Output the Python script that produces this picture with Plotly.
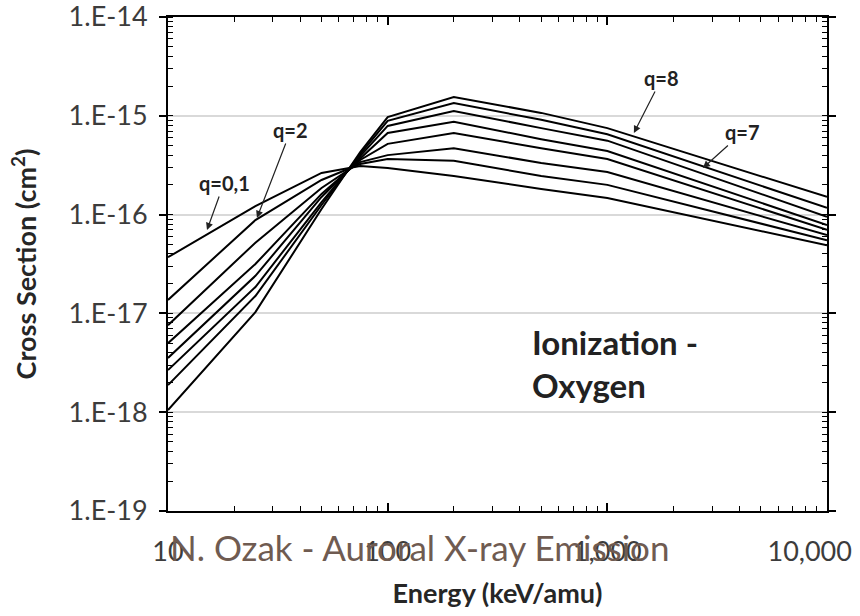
import math
import plotly.graph_objects as go

# Projectile energy grid (keV/amu)
energy = [10, 25, 50, 75, 100, 200, 500, 1000, 10000]

# Ionization cross sections (cm^2) of oxygen ions, by charge state
sigma_q01 = [3.7e-17, 1.22e-16, 2.64e-16, 3.1e-16, 2.96e-16, 2.46e-16, 1.82e-16, 1.47e-16, 4.9e-17]
sigma_q2 = [1.37e-17, 8.8e-17, 2.24e-16, 3.25e-16, 3.66e-16, 3.5e-16, 2.46e-16, 2.0e-16, 5.5e-17]
sigma_q3 = [7.6e-18, 5.2e-17, 1.86e-16, 3.4e-16, 4.0e-16, 4.7e-16, 3.33e-16, 2.7e-16, 6.2e-17]
sigma_q4 = [5.0e-18, 3.16e-17, 1.62e-16, 3.57e-16, 5.2e-16, 6.7e-16, 4.7e-16, 3.66e-16, 7.0e-17]
sigma_q5 = [3.54e-18, 2.4e-17, 1.51e-16, 3.7e-16, 6.7e-16, 8.7e-16, 5.8e-16, 4.4e-16, 7.85e-17]
sigma_q6 = [2.67e-18, 1.85e-17, 1.34e-16, 3.9e-16, 7.9e-16, 1.12e-15, 7.5e-16, 5.6e-16, 9.5e-17]
sigma_q7 = [1.88e-18, 1.5e-17, 1.25e-16, 4.1e-16, 8.9e-16, 1.35e-15, 9.1e-16, 6.5e-16, 1.17e-16]
sigma_q8 = [1.05e-18, 1.03e-17, 1.14e-16, 4.3e-16, 9.7e-16, 1.55e-15, 1.07e-15, 7.5e-16, 1.51e-16]

series = {
    "q=0,1": sigma_q01, "q=2": sigma_q2, "q=3": sigma_q3, "q=4": sigma_q4,
    "q=5": sigma_q5, "q=6": sigma_q6, "q=7": sigma_q7, "q=8": sigma_q8,
}

y_tickvals = [1e-19, 1e-18, 1e-17, 1e-16, 1e-15, 1e-14]
y_ticktext = ["1.E-19", "1.E-18", "1.E-17", "1.E-16", "1.E-15", "1.E-14"]
x_tickvals = [10, 100, 1000, 10000]
# trailing no-break spaces pull the last label inside the figure edge
x_ticktext = ["10", "100", "1,000", "10,000" + "\u00a0" * 5]

# Labelled curves: (label, arrow-tip energy, arrow-tip sigma, ax, ay)
callouts = [
    ("q=0,1", 15.05, 6.98e-17, 17, -47),
    ("q=2", 25.4, 9.25e-17, 34, -88),
    ("q=8", 1321, 6.7e-16, 28, -55),
    ("q=7", 2723, 2.96e-16, 40, -36),
]

FONT = "Lato, Open Sans, sans-serif"

fig = go.Figure()
for name, vals in series.items():
    fig.add_trace(go.Scatter(
        x=energy, y=vals, mode="lines", name=name,
        line=dict(color="black", width=2), showlegend=False,
    ))

tick_font = dict(family=FONT, size=27, color="#3c3c3c")
title_font = dict(family=FONT, size=27, color="#262626")

fig.update_xaxes(
    type="log", range=[1, 4],
    tickvals=x_tickvals, ticktext=x_ticktext, tickfont=tick_font,
    ticklabelstandoff=16, ticklabeloverflow="allow",
    showgrid=False, zeroline=False,
    showline=True, linecolor="black", linewidth=2, mirror="allticks",
    ticks="inside", ticklen=8, tickcolor="black", tickwidth=1.5,
    minor=dict(ticks="inside", ticklen=5, tickcolor="black", tickwidth=1.2,
               dtick="D1", showgrid=False),
    title=dict(text="<b>Energy (keV/amu)</b>", font=title_font, standoff=18),
)
fig.update_yaxes(
    type="log", range=[-19, -14],
    tickvals=y_tickvals, ticktext=y_ticktext, tickfont=tick_font,
    ticklabelstandoff=6, ticklabeloverflow="allow",
    showgrid=True, gridcolor="#d9d9d9", gridwidth=2, zeroline=False,
    showline=True, linecolor="black", linewidth=2, mirror="allticks",
    ticks="outside", ticklen=7, tickcolor="black", tickwidth=1.5,
    minor=dict(ticks="inside", ticklen=5, tickcolor="black", tickwidth=1.2,
               dtick="D1", showgrid=False),
    title=dict(text="<b>Cross Section (cm<sup>2</sup>)</b>", font=title_font, standoff=24),
)

# Annotation positions on log axes are given in log10 units
for label, ex, sy, ax, ay in callouts:
    fig.add_annotation(
        x=math.log10(ex), y=math.log10(sy), xref="x", yref="y",
        ax=ax, ay=ay, text=f"<b>{label}</b>", showarrow=True,
        arrowhead=2, arrowsize=1.2, arrowwidth=1.2, arrowcolor="#222",
        standoff=0,
        font=dict(family=FONT, size=20, color="#222"),
    )

fig.add_annotation(
    x=0.549, y=0.298, xref="paper", yref="paper", xanchor="left", yanchor="middle",
    align="left", showarrow=False,
    text="<b>Ionization -</b><br><b>Oxygen</b>",
    font=dict(family=FONT, size=33, color="#222"),
)

fig.add_annotation(
    x=0.0, y=-0.073, xref="paper", yref="paper", xanchor="left", yanchor="middle",
    showarrow=False, text="N. Ozak - Auroral X-ray Emission",
    font=dict(family=FONT, size=35, color="#6f5b51"),
)

fig.update_layout(
    width=860, height=616,
    margin=dict(l=168, r=33, t=17, b=105, autoexpand=False),
    paper_bgcolor="white", plot_bgcolor="white",
)

fig.write_html("out.html")
